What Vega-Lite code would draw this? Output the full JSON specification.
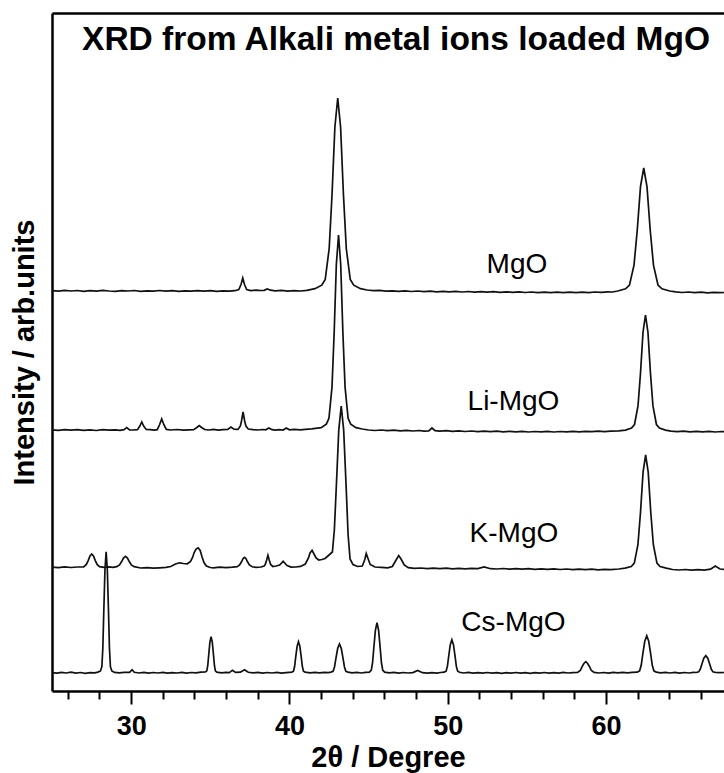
{
  "$schema": "https://vega.github.io/schema/vega-lite/v6.json",
  "width": 672,
  "height": 678,
  "autosize": {"type": "none"},
  "padding": {"left": 52, "top": 13, "right": 0, "bottom": 82},
  "background": "white",
  "config": {"view": {"stroke": null}, "font": "Liberation Sans"},
  "title": {
    "text": "XRD from Alkali metal ions loaded MgO",
    "font": "Liberation Sans",
    "fontSize": 33.5,
    "fontWeight": "bold",
    "color": "black",
    "anchor": "middle",
    "dx": 8,
    "offset": -44
  },
  "datasets": {
    "patterns": [
      {"sample":"MgO","angle":25.0,"intensity":400.4},{"sample":"MgO","angle":25.4,"intensity":399.8},{"sample":"MgO","angle":25.8,"intensity":400.6},{"sample":"MgO","angle":26.2,"intensity":400.0},{"sample":"MgO","angle":26.6,"intensity":400.5},{"sample":"MgO","angle":27.0,"intensity":399.7},{"sample":"MgO","angle":27.4,"intensity":400.3},{"sample":"MgO","angle":27.8,"intensity":399.9},{"sample":"MgO","angle":28.2,"intensity":400.6},{"sample":"MgO","angle":28.6,"intensity":400.0},{"sample":"MgO","angle":29.0,"intensity":399.6},{"sample":"MgO","angle":29.4,"intensity":400.4},{"sample":"MgO","angle":29.8,"intensity":400.0},{"sample":"MgO","angle":30.2,"intensity":400.5},{"sample":"MgO","angle":30.6,"intensity":399.7},{"sample":"MgO","angle":31.0,"intensity":400.2},{"sample":"MgO","angle":31.4,"intensity":399.8},{"sample":"MgO","angle":31.8,"intensity":400.5},{"sample":"MgO","angle":32.2,"intensity":399.9},{"sample":"MgO","angle":32.6,"intensity":400.3},{"sample":"MgO","angle":33.0,"intensity":399.6},{"sample":"MgO","angle":33.4,"intensity":400.2},{"sample":"MgO","angle":33.8,"intensity":399.8},{"sample":"MgO","angle":34.2,"intensity":400.4},{"sample":"MgO","angle":34.6,"intensity":399.9},{"sample":"MgO","angle":35.0,"intensity":400.3},{"sample":"MgO","angle":35.4,"intensity":399.6},{"sample":"MgO","angle":35.8,"intensity":400.1},{"sample":"MgO","angle":36.2,"intensity":399.8},{"sample":"MgO","angle":36.55,"intensity":400.3},{"sample":"MgO","angle":36.8,"intensity":401.5},{"sample":"MgO","angle":36.94,"intensity":406.5},{"sample":"MgO","angle":37.05,"intensity":413},{"sample":"MgO","angle":37.16,"intensity":406.5},{"sample":"MgO","angle":37.3,"intensity":401.5},{"sample":"MgO","angle":37.55,"intensity":400.4},{"sample":"MgO","angle":37.9,"intensity":400.9},{"sample":"MgO","angle":38.2,"intensity":400.5},{"sample":"MgO","angle":38.4,"intensity":400.6},{"sample":"MgO","angle":38.6,"intensity":402},{"sample":"MgO","angle":38.8,"intensity":400.8},{"sample":"MgO","angle":39.1,"intensity":400.2},{"sample":"MgO","angle":39.5,"intensity":400.6},{"sample":"MgO","angle":39.9,"intensity":399.9},{"sample":"MgO","angle":40.3,"intensity":400.4},{"sample":"MgO","angle":40.7,"intensity":400.0},{"sample":"MgO","angle":41.1,"intensity":400.6},{"sample":"MgO","angle":41.61,"intensity":402.3},{"sample":"MgO","angle":42.04,"intensity":405.8},{"sample":"MgO","angle":42.26,"intensity":411.6},{"sample":"MgO","angle":42.51,"intensity":442.5},{"sample":"MgO","angle":42.69,"intensity":496.5},{"sample":"MgO","angle":42.87,"intensity":564},{"sample":"MgO","angle":43.05,"intensity":593},{"sample":"MgO","angle":43.23,"intensity":564},{"sample":"MgO","angle":43.41,"intensity":496.5},{"sample":"MgO","angle":43.59,"intensity":442.5},{"sample":"MgO","angle":43.84,"intensity":411.6},{"sample":"MgO","angle":44.06,"intensity":405.8},{"sample":"MgO","angle":44.49,"intensity":402.3},{"sample":"MgO","angle":44.9,"intensity":401.0},{"sample":"MgO","angle":45.3,"intensity":400.3},{"sample":"MgO","angle":45.7,"intensity":400.6},{"sample":"MgO","angle":46.1,"intensity":399.8},{"sample":"MgO","angle":46.5,"intensity":400.2},{"sample":"MgO","angle":46.9,"intensity":399.6},{"sample":"MgO","angle":47.3,"intensity":400.1},{"sample":"MgO","angle":47.7,"intensity":399.5},{"sample":"MgO","angle":48.1,"intensity":400.0},{"sample":"MgO","angle":48.5,"intensity":399.4},{"sample":"MgO","angle":48.9,"intensity":399.9},{"sample":"MgO","angle":49.3,"intensity":399.2},{"sample":"MgO","angle":49.7,"intensity":399.7},{"sample":"MgO","angle":50.1,"intensity":399.1},{"sample":"MgO","angle":50.5,"intensity":399.6},{"sample":"MgO","angle":50.9,"intensity":399.0},{"sample":"MgO","angle":51.3,"intensity":399.5},{"sample":"MgO","angle":51.7,"intensity":398.9},{"sample":"MgO","angle":52.1,"intensity":399.4},{"sample":"MgO","angle":52.5,"intensity":398.8},{"sample":"MgO","angle":52.9,"intensity":399.3},{"sample":"MgO","angle":53.3,"intensity":398.7},{"sample":"MgO","angle":53.7,"intensity":399.2},{"sample":"MgO","angle":54.1,"intensity":398.6},{"sample":"MgO","angle":54.5,"intensity":399.1},{"sample":"MgO","angle":54.9,"intensity":398.5},{"sample":"MgO","angle":55.3,"intensity":399.0},{"sample":"MgO","angle":55.7,"intensity":398.4},{"sample":"MgO","angle":56.1,"intensity":398.9},{"sample":"MgO","angle":56.5,"intensity":398.3},{"sample":"MgO","angle":56.9,"intensity":398.8},{"sample":"MgO","angle":57.3,"intensity":398.4},{"sample":"MgO","angle":57.7,"intensity":398.9},{"sample":"MgO","angle":58.1,"intensity":398.3},{"sample":"MgO","angle":58.5,"intensity":398.8},{"sample":"MgO","angle":58.9,"intensity":398.4},{"sample":"MgO","angle":59.3,"intensity":399.0},{"sample":"MgO","angle":59.7,"intensity":398.6},{"sample":"MgO","angle":60.1,"intensity":399.2},{"sample":"MgO","angle":60.4,"intensity":399.0},{"sample":"MgO","angle":60.74,"intensity":400},{"sample":"MgO","angle":61.23,"intensity":402.2},{"sample":"MgO","angle":61.48,"intensity":406},{"sample":"MgO","angle":61.765,"intensity":425.9},{"sample":"MgO","angle":61.97,"intensity":460.8},{"sample":"MgO","angle":62.175,"intensity":504.3},{"sample":"MgO","angle":62.38,"intensity":523},{"sample":"MgO","angle":62.585,"intensity":504.3},{"sample":"MgO","angle":62.79,"intensity":460.8},{"sample":"MgO","angle":62.995,"intensity":425.9},{"sample":"MgO","angle":63.28,"intensity":406},{"sample":"MgO","angle":63.53,"intensity":402.2},{"sample":"MgO","angle":64.02,"intensity":400},{"sample":"MgO","angle":64.4,"intensity":399.2},{"sample":"MgO","angle":64.8,"intensity":398.5},{"sample":"MgO","angle":65.2,"intensity":399.0},{"sample":"MgO","angle":65.6,"intensity":398.3},{"sample":"MgO","angle":66.0,"intensity":398.8},{"sample":"MgO","angle":66.4,"intensity":398.2},{"sample":"MgO","angle":66.8,"intensity":398.7},{"sample":"MgO","angle":67.2,"intensity":398.3},{"sample":"MgO","angle":67.6,"intensity":398.6},

      {"sample":"Li-MgO","angle":25.0,"intensity":261.2},{"sample":"Li-MgO","angle":25.4,"intensity":260.6},{"sample":"Li-MgO","angle":25.8,"intensity":261.3},{"sample":"Li-MgO","angle":26.2,"intensity":260.8},{"sample":"Li-MgO","angle":26.6,"intensity":261.4},{"sample":"Li-MgO","angle":27.0,"intensity":260.7},{"sample":"Li-MgO","angle":27.4,"intensity":261.1},{"sample":"Li-MgO","angle":27.8,"intensity":260.5},{"sample":"Li-MgO","angle":28.2,"intensity":261.3},{"sample":"Li-MgO","angle":28.6,"intensity":260.8},{"sample":"Li-MgO","angle":29.0,"intensity":261.2},{"sample":"Li-MgO","angle":29.3,"intensity":260.7},{"sample":"Li-MgO","angle":29.55,"intensity":261.3},{"sample":"Li-MgO","angle":29.72,"intensity":263.5},{"sample":"Li-MgO","angle":29.9,"intensity":261.2},{"sample":"Li-MgO","angle":30.1,"intensity":261.0},{"sample":"Li-MgO","angle":30.4,"intensity":261.4},{"sample":"Li-MgO","angle":30.55,"intensity":265},{"sample":"Li-MgO","angle":30.67,"intensity":269},{"sample":"Li-MgO","angle":30.79,"intensity":265},{"sample":"Li-MgO","angle":30.95,"intensity":261.5},{"sample":"Li-MgO","angle":31.2,"intensity":261.4},{"sample":"Li-MgO","angle":31.45,"intensity":260.8},{"sample":"Li-MgO","angle":31.65,"intensity":261.3},{"sample":"Li-MgO","angle":31.8,"intensity":266.5},{"sample":"Li-MgO","angle":31.93,"intensity":272},{"sample":"Li-MgO","angle":32.06,"intensity":266.5},{"sample":"Li-MgO","angle":32.22,"intensity":261.6},{"sample":"Li-MgO","angle":32.5,"intensity":261.0},{"sample":"Li-MgO","angle":32.9,"intensity":261.5},{"sample":"Li-MgO","angle":33.3,"intensity":260.9},{"sample":"Li-MgO","angle":33.65,"intensity":261.2},{"sample":"Li-MgO","angle":33.95,"intensity":261.4},{"sample":"Li-MgO","angle":34.15,"intensity":263.5},{"sample":"Li-MgO","angle":34.3,"intensity":265.5},{"sample":"Li-MgO","angle":34.45,"intensity":263.5},{"sample":"Li-MgO","angle":34.65,"intensity":261.5},{"sample":"Li-MgO","angle":34.9,"intensity":261.0},{"sample":"Li-MgO","angle":35.2,"intensity":261.6},{"sample":"Li-MgO","angle":35.5,"intensity":260.9},{"sample":"Li-MgO","angle":35.8,"intensity":261.3},{"sample":"Li-MgO","angle":36.1,"intensity":261.5},{"sample":"Li-MgO","angle":36.3,"intensity":264},{"sample":"Li-MgO","angle":36.5,"intensity":261.8},{"sample":"Li-MgO","angle":36.75,"intensity":261.6},{"sample":"Li-MgO","angle":36.9,"intensity":265},{"sample":"Li-MgO","angle":36.97,"intensity":270},{"sample":"Li-MgO","angle":37.07,"intensity":279},{"sample":"Li-MgO","angle":37.17,"intensity":270},{"sample":"Li-MgO","angle":37.25,"intensity":265},{"sample":"Li-MgO","angle":37.4,"intensity":262},{"sample":"Li-MgO","angle":37.7,"intensity":261.4},{"sample":"Li-MgO","angle":38.0,"intensity":261.0},{"sample":"Li-MgO","angle":38.3,"intensity":261.5},{"sample":"Li-MgO","angle":38.5,"intensity":261.2},{"sample":"Li-MgO","angle":38.7,"intensity":263},{"sample":"Li-MgO","angle":38.9,"intensity":261.3},{"sample":"Li-MgO","angle":39.1,"intensity":260.9},{"sample":"Li-MgO","angle":39.35,"intensity":261.4},{"sample":"Li-MgO","angle":39.6,"intensity":261.0},{"sample":"Li-MgO","angle":39.8,"intensity":263},{"sample":"Li-MgO","angle":40.0,"intensity":261.2},{"sample":"Li-MgO","angle":40.3,"intensity":261.6},{"sample":"Li-MgO","angle":40.7,"intensity":261.1},{"sample":"Li-MgO","angle":41.0,"intensity":261.7},{"sample":"Li-MgO","angle":41.4,"intensity":262.2},{"sample":"Li-MgO","angle":42.0,"intensity":263.3},{"sample":"Li-MgO","angle":42.33,"intensity":266.9},{"sample":"Li-MgO","angle":42.495,"intensity":272.7},{"sample":"Li-MgO","angle":42.6875,"intensity":303.9},{"sample":"Li-MgO","angle":42.825,"intensity":358.5},{"sample":"Li-MgO","angle":42.9625,"intensity":426.75},{"sample":"Li-MgO","angle":43.1,"intensity":456},{"sample":"Li-MgO","angle":43.2375,"intensity":426.75},{"sample":"Li-MgO","angle":43.375,"intensity":358.5},{"sample":"Li-MgO","angle":43.5125,"intensity":303.9},{"sample":"Li-MgO","angle":43.705,"intensity":272.7},{"sample":"Li-MgO","angle":43.87,"intensity":266.9},{"sample":"Li-MgO","angle":44.2,"intensity":263.3},{"sample":"Li-MgO","angle":44.6,"intensity":262.0},{"sample":"Li-MgO","angle":45.0,"intensity":261.0},{"sample":"Li-MgO","angle":45.4,"intensity":260.5},{"sample":"Li-MgO","angle":45.8,"intensity":261.0},{"sample":"Li-MgO","angle":46.2,"intensity":260.3},{"sample":"Li-MgO","angle":46.6,"intensity":260.8},{"sample":"Li-MgO","angle":47.0,"intensity":260.2},{"sample":"Li-MgO","angle":47.4,"intensity":260.7},{"sample":"Li-MgO","angle":47.8,"intensity":260.0},{"sample":"Li-MgO","angle":48.2,"intensity":260.5},{"sample":"Li-MgO","angle":48.5,"intensity":259.9},{"sample":"Li-MgO","angle":48.8,"intensity":260.2},{"sample":"Li-MgO","angle":49.0,"intensity":263},{"sample":"Li-MgO","angle":49.2,"intensity":260.3},{"sample":"Li-MgO","angle":49.5,"intensity":259.8},{"sample":"Li-MgO","angle":49.9,"intensity":260.3},{"sample":"Li-MgO","angle":50.3,"intensity":259.6},{"sample":"Li-MgO","angle":50.7,"intensity":260.1},{"sample":"Li-MgO","angle":51.1,"intensity":259.5},{"sample":"Li-MgO","angle":51.5,"intensity":260.0},{"sample":"Li-MgO","angle":51.9,"intensity":259.4},{"sample":"Li-MgO","angle":52.3,"intensity":259.9},{"sample":"Li-MgO","angle":52.7,"intensity":259.3},{"sample":"Li-MgO","angle":53.1,"intensity":259.8},{"sample":"Li-MgO","angle":53.5,"intensity":259.2},{"sample":"Li-MgO","angle":53.9,"intensity":259.7},{"sample":"Li-MgO","angle":54.3,"intensity":259.1},{"sample":"Li-MgO","angle":54.7,"intensity":259.6},{"sample":"Li-MgO","angle":55.1,"intensity":259.0},{"sample":"Li-MgO","angle":55.5,"intensity":259.5},{"sample":"Li-MgO","angle":55.9,"intensity":259.1},{"sample":"Li-MgO","angle":56.3,"intensity":259.6},{"sample":"Li-MgO","angle":56.7,"intensity":259.0},{"sample":"Li-MgO","angle":57.1,"intensity":259.5},{"sample":"Li-MgO","angle":57.5,"intensity":259.1},{"sample":"Li-MgO","angle":57.9,"intensity":259.6},{"sample":"Li-MgO","angle":58.3,"intensity":259.2},{"sample":"Li-MgO","angle":58.7,"intensity":259.7},{"sample":"Li-MgO","angle":59.1,"intensity":259.3},{"sample":"Li-MgO","angle":59.5,"intensity":259.8},{"sample":"Li-MgO","angle":59.9,"intensity":259.4},{"sample":"Li-MgO","angle":60.3,"intensity":259.9},{"sample":"Li-MgO","angle":60.8,"intensity":260.2},{"sample":"Li-MgO","angle":61.23,"intensity":260.9},{"sample":"Li-MgO","angle":61.608,"intensity":263},{"sample":"Li-MgO","angle":61.797,"intensity":266.5},{"sample":"Li-MgO","angle":62.0175,"intensity":285.1},{"sample":"Li-MgO","angle":62.175,"intensity":317.75},{"sample":"Li-MgO","angle":62.3325,"intensity":358.5},{"sample":"Li-MgO","angle":62.49,"intensity":376},{"sample":"Li-MgO","angle":62.6475,"intensity":358.5},{"sample":"Li-MgO","angle":62.805,"intensity":317.75},{"sample":"Li-MgO","angle":62.9625,"intensity":285.1},{"sample":"Li-MgO","angle":63.183,"intensity":266.5},{"sample":"Li-MgO","angle":63.372,"intensity":263},{"sample":"Li-MgO","angle":63.75,"intensity":260.9},{"sample":"Li-MgO","angle":64.1,"intensity":259.8},{"sample":"Li-MgO","angle":64.5,"intensity":259.3},{"sample":"Li-MgO","angle":64.9,"intensity":259.8},{"sample":"Li-MgO","angle":65.3,"intensity":259.2},{"sample":"Li-MgO","angle":65.7,"intensity":259.7},{"sample":"Li-MgO","angle":66.1,"intensity":259.1},{"sample":"Li-MgO","angle":66.5,"intensity":259.6},{"sample":"Li-MgO","angle":66.9,"intensity":259.0},{"sample":"Li-MgO","angle":67.3,"intensity":259.5},{"sample":"Li-MgO","angle":67.6,"intensity":259.2},

      {"sample":"K-MgO","angle":25.0,"intensity":123.9},{"sample":"K-MgO","angle":25.4,"intensity":123.4},{"sample":"K-MgO","angle":25.8,"intensity":124.1},{"sample":"K-MgO","angle":26.2,"intensity":123.5},{"sample":"K-MgO","angle":26.6,"intensity":124.0},{"sample":"K-MgO","angle":27.0,"intensity":124.2},{"sample":"K-MgO","angle":27.17,"intensity":126.6},{"sample":"K-MgO","angle":27.285,"intensity":130.4},{"sample":"K-MgO","angle":27.4,"intensity":135},{"sample":"K-MgO","angle":27.51,"intensity":137},{"sample":"K-MgO","angle":27.62,"intensity":135},{"sample":"K-MgO","angle":27.735,"intensity":130.4},{"sample":"K-MgO","angle":27.85,"intensity":126.6},{"sample":"K-MgO","angle":28.0,"intensity":124.4},{"sample":"K-MgO","angle":28.3,"intensity":123.6},{"sample":"K-MgO","angle":28.6,"intensity":124.1},{"sample":"K-MgO","angle":28.85,"intensity":123.7},{"sample":"K-MgO","angle":29.09,"intensity":124.3},{"sample":"K-MgO","angle":29.265,"intensity":126.1},{"sample":"K-MgO","angle":29.39,"intensity":129.2},{"sample":"K-MgO","angle":29.515,"intensity":133},{"sample":"K-MgO","angle":29.64,"intensity":134.7},{"sample":"K-MgO","angle":29.765,"intensity":133},{"sample":"K-MgO","angle":29.89,"intensity":129.2},{"sample":"K-MgO","angle":30.015,"intensity":126.1},{"sample":"K-MgO","angle":30.19,"intensity":124.4},{"sample":"K-MgO","angle":30.6,"intensity":123.0},{"sample":"K-MgO","angle":31.0,"intensity":123.4},{"sample":"K-MgO","angle":31.4,"intensity":122.8},{"sample":"K-MgO","angle":31.8,"intensity":123.2},{"sample":"K-MgO","angle":32.2,"intensity":123.6},{"sample":"K-MgO","angle":32.5,"intensity":124.5},{"sample":"K-MgO","angle":32.8,"intensity":127},{"sample":"K-MgO","angle":33.05,"intensity":128.2},{"sample":"K-MgO","angle":33.3,"intensity":127.5},{"sample":"K-MgO","angle":33.55,"intensity":127.2},{"sample":"K-MgO","angle":33.75,"intensity":129.5},{"sample":"K-MgO","angle":33.88,"intensity":133.5},{"sample":"K-MgO","angle":33.98,"intensity":138.5},{"sample":"K-MgO","angle":34.1,"intensity":142},{"sample":"K-MgO","angle":34.23,"intensity":143.2},{"sample":"K-MgO","angle":34.36,"intensity":140.5},{"sample":"K-MgO","angle":34.48,"intensity":134},{"sample":"K-MgO","angle":34.6,"intensity":128.5},{"sample":"K-MgO","angle":34.75,"intensity":125},{"sample":"K-MgO","angle":35.0,"intensity":123.5},{"sample":"K-MgO","angle":35.2,"intensity":123.2},{"sample":"K-MgO","angle":35.6,"intensity":123.9},{"sample":"K-MgO","angle":36.0,"intensity":123.3},{"sample":"K-MgO","angle":36.4,"intensity":123.8},{"sample":"K-MgO","angle":36.7,"intensity":124.3},{"sample":"K-MgO","angle":36.85,"intensity":126.0},{"sample":"K-MgO","angle":36.98,"intensity":129.5},{"sample":"K-MgO","angle":37.07,"intensity":132.5},{"sample":"K-MgO","angle":37.16,"intensity":133.7},{"sample":"K-MgO","angle":37.25,"intensity":132.5},{"sample":"K-MgO","angle":37.34,"intensity":129.5},{"sample":"K-MgO","angle":37.47,"intensity":126},{"sample":"K-MgO","angle":37.65,"intensity":124.2},{"sample":"K-MgO","angle":37.9,"intensity":123.6},{"sample":"K-MgO","angle":38.2,"intensity":124.0},{"sample":"K-MgO","angle":38.4,"intensity":125.0},{"sample":"K-MgO","angle":38.47,"intensity":126.5},{"sample":"K-MgO","angle":38.56,"intensity":131},{"sample":"K-MgO","angle":38.64,"intensity":135.7},{"sample":"K-MgO","angle":38.72,"intensity":131},{"sample":"K-MgO","angle":38.81,"intensity":126.5},{"sample":"K-MgO","angle":38.95,"intensity":124.5},{"sample":"K-MgO","angle":39.15,"intensity":125.0},{"sample":"K-MgO","angle":39.38,"intensity":126},{"sample":"K-MgO","angle":39.5,"intensity":128},{"sample":"K-MgO","angle":39.6,"intensity":129.7},{"sample":"K-MgO","angle":39.7,"intensity":128},{"sample":"K-MgO","angle":39.85,"intensity":125.5},{"sample":"K-MgO","angle":40.1,"intensity":123.9},{"sample":"K-MgO","angle":40.4,"intensity":124.0},{"sample":"K-MgO","angle":40.7,"intensity":124.6},{"sample":"K-MgO","angle":41.0,"intensity":127},{"sample":"K-MgO","angle":41.2,"intensity":133},{"sample":"K-MgO","angle":41.3,"intensity":138},{"sample":"K-MgO","angle":41.43,"intensity":140.7},{"sample":"K-MgO","angle":41.55,"intensity":137},{"sample":"K-MgO","angle":41.68,"intensity":133},{"sample":"K-MgO","angle":41.85,"intensity":131},{"sample":"K-MgO","angle":42.05,"intensity":131.5},{"sample":"K-MgO","angle":42.25,"intensity":132.5},{"sample":"K-MgO","angle":42.5,"intensity":136},{"sample":"K-MgO","angle":42.712,"intensity":139},{"sample":"K-MgO","angle":42.836,"intensity":161},{"sample":"K-MgO","angle":42.96,"intensity":204.5},{"sample":"K-MgO","angle":43.115,"intensity":260.9},{"sample":"K-MgO","angle":43.27,"intensity":285},{"sample":"K-MgO","angle":43.425,"intensity":260.9},{"sample":"K-MgO","angle":43.58,"intensity":204.5},{"sample":"K-MgO","angle":43.704,"intensity":156.2},{"sample":"K-MgO","angle":43.828,"intensity":132},{"sample":"K-MgO","angle":44.014,"intensity":126.4},{"sample":"K-MgO","angle":44.3,"intensity":124.5},{"sample":"K-MgO","angle":44.6,"intensity":125},{"sample":"K-MgO","angle":44.75,"intensity":131},{"sample":"K-MgO","angle":44.85,"intensity":137.5},{"sample":"K-MgO","angle":44.95,"intensity":133},{"sample":"K-MgO","angle":45.1,"intensity":126.5},{"sample":"K-MgO","angle":45.4,"intensity":124.0},{"sample":"K-MgO","angle":45.8,"intensity":123.6},{"sample":"K-MgO","angle":46.2,"intensity":123.2},{"sample":"K-MgO","angle":46.5,"intensity":124.5},{"sample":"K-MgO","angle":46.7,"intensity":130},{"sample":"K-MgO","angle":46.9,"intensity":135.5},{"sample":"K-MgO","angle":47.05,"intensity":132},{"sample":"K-MgO","angle":47.25,"intensity":126},{"sample":"K-MgO","angle":47.5,"intensity":123.4},{"sample":"K-MgO","angle":47.9,"intensity":122.6},{"sample":"K-MgO","angle":48.3,"intensity":123.0},{"sample":"K-MgO","angle":48.7,"intensity":122.4},{"sample":"K-MgO","angle":49.1,"intensity":122.9},{"sample":"K-MgO","angle":49.5,"intensity":122.3},{"sample":"K-MgO","angle":49.9,"intensity":122.8},{"sample":"K-MgO","angle":50.3,"intensity":122.2},{"sample":"K-MgO","angle":50.7,"intensity":122.7},{"sample":"K-MgO","angle":51.1,"intensity":122.1},{"sample":"K-MgO","angle":51.5,"intensity":122.6},{"sample":"K-MgO","angle":51.9,"intensity":122.4},{"sample":"K-MgO","angle":52.3,"intensity":124.0},{"sample":"K-MgO","angle":52.7,"intensity":122.3},{"sample":"K-MgO","angle":53.1,"intensity":122.0},{"sample":"K-MgO","angle":53.5,"intensity":122.5},{"sample":"K-MgO","angle":53.9,"intensity":121.9},{"sample":"K-MgO","angle":54.3,"intensity":122.4},{"sample":"K-MgO","angle":54.7,"intensity":121.8},{"sample":"K-MgO","angle":55.1,"intensity":122.3},{"sample":"K-MgO","angle":55.5,"intensity":121.7},{"sample":"K-MgO","angle":55.9,"intensity":122.2},{"sample":"K-MgO","angle":56.3,"intensity":121.6},{"sample":"K-MgO","angle":56.7,"intensity":122.1},{"sample":"K-MgO","angle":57.1,"intensity":121.5},{"sample":"K-MgO","angle":57.5,"intensity":122.0},{"sample":"K-MgO","angle":57.9,"intensity":121.4},{"sample":"K-MgO","angle":58.3,"intensity":121.9},{"sample":"K-MgO","angle":58.7,"intensity":121.3},{"sample":"K-MgO","angle":59.1,"intensity":121.8},{"sample":"K-MgO","angle":59.5,"intensity":121.2},{"sample":"K-MgO","angle":59.9,"intensity":121.7},{"sample":"K-MgO","angle":60.3,"intensity":121.3},{"sample":"K-MgO","angle":60.8,"intensity":122.0},{"sample":"K-MgO","angle":61.2,"intensity":122.9},{"sample":"K-MgO","angle":61.59,"intensity":124.5},{"sample":"K-MgO","angle":61.785,"intensity":127.9},{"sample":"K-MgO","angle":62.0125,"intensity":146.3},{"sample":"K-MgO","angle":62.175,"intensity":178.5},{"sample":"K-MgO","angle":62.3375,"intensity":218.8},{"sample":"K-MgO","angle":62.5,"intensity":236},{"sample":"K-MgO","angle":62.6625,"intensity":218.8},{"sample":"K-MgO","angle":62.825,"intensity":178.5},{"sample":"K-MgO","angle":62.9875,"intensity":146.3},{"sample":"K-MgO","angle":63.215,"intensity":127.9},{"sample":"K-MgO","angle":63.41,"intensity":124.5},{"sample":"K-MgO","angle":63.8,"intensity":122.9},{"sample":"K-MgO","angle":64.2,"intensity":121.5},{"sample":"K-MgO","angle":64.6,"intensity":121.0},{"sample":"K-MgO","angle":65.0,"intensity":121.5},{"sample":"K-MgO","angle":65.4,"intensity":120.9},{"sample":"K-MgO","angle":65.8,"intensity":121.4},{"sample":"K-MgO","angle":66.2,"intensity":120.8},{"sample":"K-MgO","angle":66.6,"intensity":121.8},{"sample":"K-MgO","angle":66.9,"intensity":125},{"sample":"K-MgO","angle":67.2,"intensity":122.0},{"sample":"K-MgO","angle":67.6,"intensity":121.3},

      {"sample":"Cs-MgO","angle":25.0,"intensity":18.4},{"sample":"Cs-MgO","angle":25.3,"intensity":17.8},{"sample":"Cs-MgO","angle":25.6,"intensity":18.6},{"sample":"Cs-MgO","angle":25.9,"intensity":18.0},{"sample":"Cs-MgO","angle":26.2,"intensity":18.8},{"sample":"Cs-MgO","angle":26.5,"intensity":17.9},{"sample":"Cs-MgO","angle":26.8,"intensity":18.5},{"sample":"Cs-MgO","angle":27.1,"intensity":17.7},{"sample":"Cs-MgO","angle":27.4,"intensity":18.4},{"sample":"Cs-MgO","angle":27.7,"intensity":18.1},{"sample":"Cs-MgO","angle":27.9,"intensity":18.9},{"sample":"Cs-MgO","angle":28.06,"intensity":20.1},{"sample":"Cs-MgO","angle":28.15,"intensity":24.3},{"sample":"Cs-MgO","angle":28.21,"intensity":42.5},{"sample":"Cs-MgO","angle":28.27,"intensity":78.8},{"sample":"Cs-MgO","angle":28.345,"intensity":121.2},{"sample":"Cs-MgO","angle":28.42,"intensity":139.3},{"sample":"Cs-MgO","angle":28.495,"intensity":121.2},{"sample":"Cs-MgO","angle":28.57,"intensity":78.8},{"sample":"Cs-MgO","angle":28.63,"intensity":42.5},{"sample":"Cs-MgO","angle":28.69,"intensity":24.3},{"sample":"Cs-MgO","angle":28.78,"intensity":20.1},{"sample":"Cs-MgO","angle":28.95,"intensity":18.6},{"sample":"Cs-MgO","angle":29.25,"intensity":18.1},{"sample":"Cs-MgO","angle":29.55,"intensity":18.7},{"sample":"Cs-MgO","angle":29.9,"intensity":18.6},{"sample":"Cs-MgO","angle":30.06,"intensity":21.3},{"sample":"Cs-MgO","angle":30.2,"intensity":18.7},{"sample":"Cs-MgO","angle":30.5,"intensity":18.0},{"sample":"Cs-MgO","angle":30.8,"intensity":18.6},{"sample":"Cs-MgO","angle":31.1,"intensity":17.9},{"sample":"Cs-MgO","angle":31.4,"intensity":18.5},{"sample":"Cs-MgO","angle":31.7,"intensity":18.0},{"sample":"Cs-MgO","angle":32.0,"intensity":18.7},{"sample":"Cs-MgO","angle":32.3,"intensity":17.8},{"sample":"Cs-MgO","angle":32.6,"intensity":18.4},{"sample":"Cs-MgO","angle":32.9,"intensity":18.0},{"sample":"Cs-MgO","angle":33.2,"intensity":18.6},{"sample":"Cs-MgO","angle":33.5,"intensity":17.9},{"sample":"Cs-MgO","angle":33.8,"intensity":18.5},{"sample":"Cs-MgO","angle":34.1,"intensity":18.2},{"sample":"Cs-MgO","angle":34.4,"intensity":18.9},{"sample":"Cs-MgO","angle":34.69,"intensity":19.0},{"sample":"Cs-MgO","angle":34.78,"intensity":20.1},{"sample":"Cs-MgO","angle":34.84,"intensity":25.5},{"sample":"Cs-MgO","angle":34.9,"intensity":36.3},{"sample":"Cs-MgO","angle":34.975,"intensity":48.9},{"sample":"Cs-MgO","angle":35.05,"intensity":54.3},{"sample":"Cs-MgO","angle":35.125,"intensity":48.9},{"sample":"Cs-MgO","angle":35.2,"intensity":36.3},{"sample":"Cs-MgO","angle":35.26,"intensity":25.5},{"sample":"Cs-MgO","angle":35.32,"intensity":20.1},{"sample":"Cs-MgO","angle":35.41,"intensity":18.8},{"sample":"Cs-MgO","angle":35.7,"intensity":18.2},{"sample":"Cs-MgO","angle":36.0,"intensity":18.7},{"sample":"Cs-MgO","angle":36.2,"intensity":18.3},{"sample":"Cs-MgO","angle":36.4,"intensity":20.8},{"sample":"Cs-MgO","angle":36.6,"intensity":18.6},{"sample":"Cs-MgO","angle":36.9,"intensity":18.8},{"sample":"Cs-MgO","angle":37.16,"intensity":21.3},{"sample":"Cs-MgO","angle":37.4,"intensity":18.7},{"sample":"Cs-MgO","angle":37.7,"intensity":18.1},{"sample":"Cs-MgO","angle":38.0,"intensity":18.6},{"sample":"Cs-MgO","angle":38.3,"intensity":17.9},{"sample":"Cs-MgO","angle":38.6,"intensity":18.5},{"sample":"Cs-MgO","angle":38.9,"intensity":18.0},{"sample":"Cs-MgO","angle":39.2,"intensity":18.6},{"sample":"Cs-MgO","angle":39.5,"intensity":17.9},{"sample":"Cs-MgO","angle":39.8,"intensity":18.4},{"sample":"Cs-MgO","angle":40.15,"intensity":18.9},{"sample":"Cs-MgO","angle":40.255,"intensity":19.85},{"sample":"Cs-MgO","angle":40.325,"intensity":24.5},{"sample":"Cs-MgO","angle":40.395,"intensity":33.8},{"sample":"Cs-MgO","angle":40.4825,"intensity":44.65},{"sample":"Cs-MgO","angle":40.57,"intensity":49.3},{"sample":"Cs-MgO","angle":40.6575,"intensity":44.65},{"sample":"Cs-MgO","angle":40.745,"intensity":33.8},{"sample":"Cs-MgO","angle":40.815,"intensity":24.5},{"sample":"Cs-MgO","angle":40.885,"intensity":19.85},{"sample":"Cs-MgO","angle":40.99,"intensity":18.9},{"sample":"Cs-MgO","angle":41.3,"intensity":18.2},{"sample":"Cs-MgO","angle":41.6,"intensity":18.7},{"sample":"Cs-MgO","angle":41.9,"intensity":18.1},{"sample":"Cs-MgO","angle":42.2,"intensity":18.6},{"sample":"Cs-MgO","angle":42.45,"intensity":18.4},{"sample":"Cs-MgO","angle":42.62,"intensity":18.9},{"sample":"Cs-MgO","angle":42.755,"intensity":19.7},{"sample":"Cs-MgO","angle":42.845,"intensity":24.0},{"sample":"Cs-MgO","angle":42.935,"intensity":32.65},{"sample":"Cs-MgO","angle":43.0475,"intensity":42.7},{"sample":"Cs-MgO","angle":43.16,"intensity":47},{"sample":"Cs-MgO","angle":43.2725,"intensity":42.7},{"sample":"Cs-MgO","angle":43.385,"intensity":32.65},{"sample":"Cs-MgO","angle":43.475,"intensity":24.0},{"sample":"Cs-MgO","angle":43.565,"intensity":19.7},{"sample":"Cs-MgO","angle":43.7,"intensity":18.8},{"sample":"Cs-MgO","angle":43.95,"intensity":18.2},{"sample":"Cs-MgO","angle":44.25,"intensity":18.7},{"sample":"Cs-MgO","angle":44.55,"intensity":18.0},{"sample":"Cs-MgO","angle":44.8,"intensity":18.6},{"sample":"Cs-MgO","angle":45.05,"intensity":18.9},{"sample":"Cs-MgO","angle":45.17,"intensity":20.8},{"sample":"Cs-MgO","angle":45.25,"intensity":28.3},{"sample":"Cs-MgO","angle":45.33,"intensity":43.3},{"sample":"Cs-MgO","angle":45.43,"intensity":60.8},{"sample":"Cs-MgO","angle":45.53,"intensity":68.3},{"sample":"Cs-MgO","angle":45.63,"intensity":60.8},{"sample":"Cs-MgO","angle":45.73,"intensity":43.3},{"sample":"Cs-MgO","angle":45.81,"intensity":28.3},{"sample":"Cs-MgO","angle":45.89,"intensity":20.8},{"sample":"Cs-MgO","angle":46.01,"intensity":18.8},{"sample":"Cs-MgO","angle":46.3,"intensity":18.1},{"sample":"Cs-MgO","angle":46.6,"intensity":18.6},{"sample":"Cs-MgO","angle":46.9,"intensity":17.9},{"sample":"Cs-MgO","angle":47.2,"intensity":18.5},{"sample":"Cs-MgO","angle":47.5,"intensity":18.0},{"sample":"Cs-MgO","angle":47.8,"intensity":18.4},{"sample":"Cs-MgO","angle":48.1,"intensity":20.5},{"sample":"Cs-MgO","angle":48.4,"intensity":18.3},{"sample":"Cs-MgO","angle":48.7,"intensity":17.8},{"sample":"Cs-MgO","angle":49.0,"intensity":18.4},{"sample":"Cs-MgO","angle":49.3,"intensity":17.9},{"sample":"Cs-MgO","angle":49.55,"intensity":18.5},{"sample":"Cs-MgO","angle":49.78,"intensity":18.8},{"sample":"Cs-MgO","angle":49.9,"intensity":19.95},{"sample":"Cs-MgO","angle":49.98,"intensity":24.9},{"sample":"Cs-MgO","angle":50.06,"intensity":34.8},{"sample":"Cs-MgO","angle":50.16,"intensity":46.3},{"sample":"Cs-MgO","angle":50.26,"intensity":51.3},{"sample":"Cs-MgO","angle":50.36,"intensity":46.3},{"sample":"Cs-MgO","angle":50.46,"intensity":34.8},{"sample":"Cs-MgO","angle":50.54,"intensity":24.9},{"sample":"Cs-MgO","angle":50.62,"intensity":19.95},{"sample":"Cs-MgO","angle":50.74,"intensity":18.7},{"sample":"Cs-MgO","angle":51.0,"intensity":18.0},{"sample":"Cs-MgO","angle":51.3,"intensity":18.6},{"sample":"Cs-MgO","angle":51.6,"intensity":17.9},{"sample":"Cs-MgO","angle":51.9,"intensity":18.4},{"sample":"Cs-MgO","angle":52.2,"intensity":17.8},{"sample":"Cs-MgO","angle":52.5,"intensity":18.5},{"sample":"Cs-MgO","angle":52.8,"intensity":17.9},{"sample":"Cs-MgO","angle":53.1,"intensity":18.4},{"sample":"Cs-MgO","angle":53.4,"intensity":17.7},{"sample":"Cs-MgO","angle":53.7,"intensity":18.3},{"sample":"Cs-MgO","angle":54.0,"intensity":17.8},{"sample":"Cs-MgO","angle":54.3,"intensity":18.5},{"sample":"Cs-MgO","angle":54.6,"intensity":17.8},{"sample":"Cs-MgO","angle":54.9,"intensity":18.3},{"sample":"Cs-MgO","angle":55.2,"intensity":17.7},{"sample":"Cs-MgO","angle":55.5,"intensity":18.4},{"sample":"Cs-MgO","angle":55.8,"intensity":17.9},{"sample":"Cs-MgO","angle":56.1,"intensity":18.5},{"sample":"Cs-MgO","angle":56.4,"intensity":17.8},{"sample":"Cs-MgO","angle":56.7,"intensity":18.3},{"sample":"Cs-MgO","angle":57.0,"intensity":17.9},{"sample":"Cs-MgO","angle":57.3,"intensity":18.6},{"sample":"Cs-MgO","angle":57.6,"intensity":18.0},{"sample":"Cs-MgO","angle":57.9,"intensity":18.4},{"sample":"Cs-MgO","angle":58.2,"intensity":18.6},{"sample":"Cs-MgO","angle":58.37,"intensity":20.5},{"sample":"Cs-MgO","angle":58.47,"intensity":23.8},{"sample":"Cs-MgO","angle":58.6,"intensity":27.5},{"sample":"Cs-MgO","angle":58.72,"intensity":29.3},{"sample":"Cs-MgO","angle":58.84,"intensity":27.5},{"sample":"Cs-MgO","angle":58.97,"intensity":23.8},{"sample":"Cs-MgO","angle":59.07,"intensity":20.5},{"sample":"Cs-MgO","angle":59.25,"intensity":18.6},{"sample":"Cs-MgO","angle":59.55,"intensity":18.0},{"sample":"Cs-MgO","angle":59.85,"intensity":18.5},{"sample":"Cs-MgO","angle":60.15,"intensity":17.9},{"sample":"Cs-MgO","angle":60.45,"intensity":18.6},{"sample":"Cs-MgO","angle":60.75,"intensity":18.1},{"sample":"Cs-MgO","angle":61.05,"intensity":18.7},{"sample":"Cs-MgO","angle":61.35,"intensity":18.2},{"sample":"Cs-MgO","angle":61.65,"intensity":18.6},{"sample":"Cs-MgO","angle":61.97,"intensity":18.8},{"sample":"Cs-MgO","angle":62.12,"intensity":20.15},{"sample":"Cs-MgO","angle":62.22,"intensity":25.7},{"sample":"Cs-MgO","angle":62.32,"intensity":36.8},{"sample":"Cs-MgO","angle":62.445,"intensity":49.75},{"sample":"Cs-MgO","angle":62.57,"intensity":55.3},{"sample":"Cs-MgO","angle":62.695,"intensity":49.75},{"sample":"Cs-MgO","angle":62.82,"intensity":36.8},{"sample":"Cs-MgO","angle":62.92,"intensity":25.7},{"sample":"Cs-MgO","angle":63.02,"intensity":20.15},{"sample":"Cs-MgO","angle":63.17,"intensity":18.8},{"sample":"Cs-MgO","angle":63.45,"intensity":18.2},{"sample":"Cs-MgO","angle":63.75,"intensity":18.7},{"sample":"Cs-MgO","angle":64.05,"intensity":18.0},{"sample":"Cs-MgO","angle":64.35,"intensity":18.6},{"sample":"Cs-MgO","angle":64.65,"intensity":17.9},{"sample":"Cs-MgO","angle":64.95,"intensity":18.5},{"sample":"Cs-MgO","angle":65.25,"intensity":18.0},{"sample":"Cs-MgO","angle":65.5,"intensity":18.6},{"sample":"Cs-MgO","angle":65.7,"intensity":18.5},{"sample":"Cs-MgO","angle":65.85,"intensity":19.15},{"sample":"Cs-MgO","angle":65.95,"intensity":21.7},{"sample":"Cs-MgO","angle":66.05,"intensity":26.8},{"sample":"Cs-MgO","angle":66.175,"intensity":32.75},{"sample":"Cs-MgO","angle":66.3,"intensity":35.3},{"sample":"Cs-MgO","angle":66.425,"intensity":32.75},{"sample":"Cs-MgO","angle":66.55,"intensity":26.8},{"sample":"Cs-MgO","angle":66.65,"intensity":21.7},{"sample":"Cs-MgO","angle":66.75,"intensity":19.15},{"sample":"Cs-MgO","angle":66.9,"intensity":18.6},{"sample":"Cs-MgO","angle":67.2,"intensity":18.3},{"sample":"Cs-MgO","angle":67.6,"intensity":18.6}
    ],
    "labels": [
      {"label": "MgO", "angle": 54.37, "intensity": 426},
      {"label": "Li-MgO", "angle": 54.15, "intensity": 289},
      {"label": "K-MgO", "angle": 54.18, "intensity": 157},
      {"label": "Cs-MgO", "angle": 54.15, "intensity": 68}
    ]
  },
  "layer": [
    {
      "data": {"name": "patterns"},
      "mark": {"type": "line", "color": "#111111", "strokeWidth": 1.7, "clip": true},
      "encoding": {
        "x": {
          "field": "angle",
          "type": "quantitative",
          "scale": {"domain": [25, 67.45], "nice": false, "zero": false},
          "axis": {
            "orient": "bottom",
            "values": [26, 28, 30, 32, 34, 36, 38, 40, 42, 44, 46, 48, 50, 52, 54, 56, 58, 60, 62, 64, 66],
            "labelExpr": "datum.value % 10 === 0 ? datum.label : ''",
            "tickSize": {"condition": {"test": "datum.value % 10 === 0", "value": 13}, "value": 8},
            "tickWidth": 2,
            "tickColor": "black",
            "domainColor": "black",
            "domainWidth": 2.5,
            "grid": false,
            "labelFont": "Liberation Sans",
            "labelFontSize": 27,
            "labelFontWeight": "bold",
            "labelColor": "black",
            "labelPadding": 9,
            "labelFlush": false,
            "labelOverlap": false,
            "title": "2θ / Degree",
            "titleFont": "Liberation Sans",
            "titleFontSize": 29,
            "titleFontWeight": "bold",
            "titleColor": "black",
            "titlePadding": 4
          }
        },
        "y": {
          "field": "intensity",
          "type": "quantitative",
          "scale": {"domain": [0, 678], "nice": false, "zero": false},
          "axis": {
            "orient": "left",
            "ticks": false,
            "labels": false,
            "grid": false,
            "domainColor": "black",
            "domainWidth": 2.5,
            "title": "Intensity / arb.units",
            "titleFont": "Liberation Sans",
            "titleFontSize": 29,
            "titleFontWeight": "bold",
            "titleColor": "black",
            "titlePadding": 13
          }
        },
        "detail": {"field": "sample", "type": "nominal"}
      }
    },
    {
      "data": {"name": "labels"},
      "mark": {"type": "text", "font": "Liberation Sans", "fontSize": 28, "color": "black", "align": "center", "baseline": "middle"},
      "encoding": {
        "x": {
          "field": "angle",
          "type": "quantitative",
          "axis": {"orient": "top", "ticks": false, "labels": false, "grid": false, "title": null, "domainColor": "black", "domainWidth": 2.5}
        },
        "y": {
          "field": "intensity",
          "type": "quantitative",
          "axis": {
            "orient": "left",
            "ticks": false,
            "labels": false,
            "grid": false,
            "domainColor": "black",
            "domainWidth": 2.5,
            "title": "Intensity / arb.units",
            "titleFont": "Liberation Sans",
            "titleFontSize": 29,
            "titleFontWeight": "bold",
            "titleColor": "black",
            "titlePadding": 13
          }
        },
        "text": {"field": "label", "type": "nominal"}
      }
    }
  ],
  "resolve": {"axis": {"x": "independent"}}
}
